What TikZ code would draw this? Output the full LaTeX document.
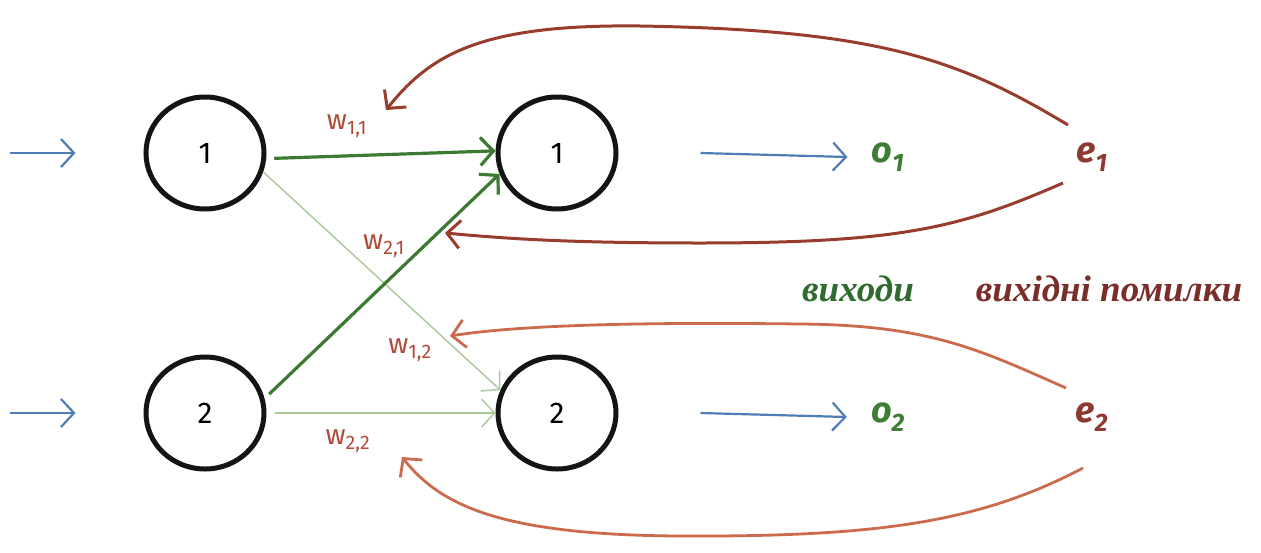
\documentclass[tikz,border=0pt]{standalone}
\usepackage{fontspec}
\setmainfont{Liberation Serif}
\newfontfamily\hand{Fira Sans}
\newfontfamily\capfont{Liberation Serif}
\usetikzlibrary{arrows.meta,shapes.geometric}
\definecolor{inblue}{HTML}{4F7DB5}
\definecolor{wgreen}{HTML}{3C7A32}
\definecolor{lgreen}{HTML}{A9C79A}
\definecolor{wlabel}{HTML}{B24A3A}
\definecolor{edark}{HTML}{983C2E}
\definecolor{elight}{HTML}{CC6A4E}
\definecolor{ogreen}{HTML}{3F7D36}
\definecolor{etext}{HTML}{8E3A33}
\definecolor{capgreen}{HTML}{2F6A2E}
\definecolor{capred}{HTML}{7A2E2A}
\begin{document}
\begin{tikzpicture}[x=1pt,y=-1pt,
  neuron/.style={ellipse,draw=black!92,line width=5pt,minimum width=118pt,minimum height=112pt,
    inner sep=0pt,font=\hand\fontsize{30}{30}\selectfont},
  barb/.style={-{Straight Barb[length=13pt,width=28pt]}},
  inarrow/.style={barb,draw=inblue,line width=2.2pt},
  strong/.style={barb,draw=wgreen,line width=3.2pt},
  weak/.style={barb,draw=lgreen,line width=1.4pt},
  backdark/.style={barb,draw=edark,line width=3pt},
  backlight/.style={barb,draw=elight,line width=2.8pt},
  wlab/.style={text=wlabel,font=\hand\fontsize{28}{28}\selectfont,inner sep=0pt},
  sig/.style={font=\hand\bfseries\itshape\fontsize{36}{36}\selectfont,inner sep=0pt},
  caption/.style={font=\capfont\bfseries\itshape\fontsize{37}{37}\selectfont,inner sep=0pt}]
\useasboundingbox (0,0) rectangle (1261,552);
\fill[white] (0,0) rectangle (1261,552);

% neurons
\node[neuron] (in1) at (205,153) {1};
\node[neuron] (in2) at (205,413) {2};
\node[neuron] (out1) at (557,153) {1};
\node[neuron] (out2) at (557,413) {2};

% signals and errors
\node[sig,text=ogreen] (o1) at (888,157) {o\textsubscript{1}};
\node[sig,text=ogreen] (o2) at (888,417) {o\textsubscript{2}};
\node[sig,text=etext] (e1) at (1092,157) {e\textsubscript{1}};
\node[sig,text=etext] (e2) at (1092,417) {e\textsubscript{2}};

% inputs
\coordinate (x1) at (10,153);
\coordinate (x2) at (10,413);
\draw[inarrow] (x1) -- ([xshift=-68pt]in1.west);
\draw[inarrow] (x2) -- ([xshift=-68pt]in2.west);

% outputs
\draw[inarrow] ([xshift=82pt]out1.east) -- ([xshift=-24pt]o1.west);
\draw[inarrow] ([xshift=82pt]out2.east) -- ([xshift=-24pt]o2.west);

% weighted links
\draw[weak] (in1.-18) -- (out2.158);
\draw[weak] ([xshift=8pt]in2.east) -- (out2.west);
\draw[strong] ([xshift=8pt]in1.-5) -- (out1.178);
\draw[strong] ([xshift=6pt]in2.18) -- (out1.200);

% weight labels
\node[wlab] (w11) at (347,126) {w\textsubscript{1,1}};
\node[wlab] (w21) at (384,246) {w\textsubscript{2,1}};
\node[wlab] (w12) at (410,350) {w\textsubscript{1,2}};
\node[wlab] (w22) at (348,441) {w\textsubscript{2,2}};

% errors fed back along the links
\coordinate (b1) at (386,110);
\coordinate (b2) at (445,233);
\coordinate (b3) at (450,336);
\coordinate (b4) at (402,457);
\draw[backdark] ([shift={(-24pt,32pt)}]e1.center) .. controls (960,60) and (880,30) .. (640,26)
   .. controls (480,24) and (430,55) .. (b1);
\draw[backdark] ([shift={(-29pt,-26pt)}]e1.center) .. controls (960,228) and (900,243) .. (700,243)
   .. controls (560,243) and (500,238) .. (b2);
\draw[backlight] ([shift={(-26pt,29pt)}]e2.center) .. controls (980,350) and (930,325) .. (800,324)
   .. controls (640,322) and (520,325) .. (b3);
\draw[backlight] ([shift={(-9pt,-51pt)}]e2.center) .. controls (980,522) and (880,537) .. (680,536)
   .. controls (500,535) and (440,505) .. (b4);

% captions
\node[caption,text=capgreen] (cap1) at (858,289) {виходи};
\node[caption,text=capred] (cap2) at (1109,289) {вихідні помилки};
\end{tikzpicture}
\end{document}
